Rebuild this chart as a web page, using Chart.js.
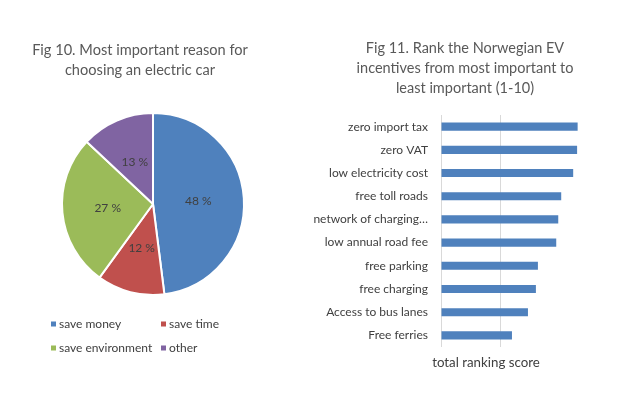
<!DOCTYPE html>
<html><head><meta charset="utf-8">
<script src="https://cdn.jsdelivr.net/npm/chart.js@4"></script>
<style>
html,body{margin:0;padding:0;background:#fff;}
#wrap{position:relative;width:620px;height:413px;background:#fff;}
canvas{position:absolute;top:0;}
#c1{left:0;}
#c2{left:310px;}
</style></head><body>
<div id="wrap">
<canvas id="c1" width="310" height="413"></canvas>
<canvas id="c2" width="310" height="413"></canvas>
</div>
<script>
const pieTitle = ['Fig 10. Most important reason for', 'choosing an electric car'];
const reasons = ['save money', 'save time', 'save environment', 'other'];
const reasonShares = [48, 12, 27, 13];
const reasonColors = ['#4F81BD', '#C0504D', '#9BBB59', '#8064A2'];

const barTitle = ['Fig 11. Rank the Norwegian EV', 'incentives from most important to', 'least important (1-10)'];
const incentives = ['zero import tax', 'zero VAT', 'low electricity cost', 'free toll roads', 'network of charging\u2026', 'low annual road fee', 'free parking', 'free charging', 'Access to bus lanes', 'Free ferries'];
const rankingScores = [1290, 1285, 1248, 1135, 1107, 1088, 915, 896, 821, 670];
const xAxisTitle = 'total ranking score';

const FONT = 'Lato, "Open Sans", sans-serif';
const TEXT = '#404040';
const TITLE = '#595959';

const pieExtras = {
  id: 'pieExtras',
  afterDatasetsDraw(chart) {
    const ctx = chart.ctx;
    const meta = chart.getDatasetMeta(0);
    ctx.save();
    ctx.font = '12px ' + FONT;
    ctx.fillStyle = TEXT;
    ctx.textAlign = 'center';
    ctx.textBaseline = 'middle';
    meta.data.forEach((arc, i) => {
      const p = arc.tooltipPosition();
      ctx.fillText(reasonShares[i] + ' %', p.x, p.y);
    });
    ctx.restore();
  },
  afterDraw(chart) {
    const ctx = chart.ctx;
    ctx.save();
    ctx.font = '14.6px ' + FONT;
    ctx.fillStyle = TITLE;
    ctx.textAlign = 'center';
    ctx.textBaseline = 'middle';
    pieTitle.forEach((t, i) => ctx.fillText(t, 140, 50 + i * 20));
    // legend, 2x2 grid
    ctx.font = '12px ' + FONT;
    ctx.textAlign = 'left';
    const cols = [51, 161], rows = [324, 348];
    reasons.forEach((r, i) => {
      const x = cols[i % 2], y = rows[Math.floor(i / 2)];
      ctx.fillStyle = reasonColors[i];
      ctx.fillRect(x, y - 2.5, 5, 5);
      ctx.fillStyle = TEXT;
      ctx.fillText(r, x + 8, y);
    });
    ctx.restore();
  }
};

// axis title drawn under the plot, offset as in the original
const barAxisTitle = {
  id: 'barAxisTitle',
  afterDraw(chart) {
    const ctx = chart.ctx;
    ctx.save();
    ctx.font = '13.3px ' + FONT;
    ctx.fillStyle = TEXT;
    ctx.textAlign = 'center';
    ctx.textBaseline = 'middle';
    ctx.fillText(xAxisTitle, 176, 363);
    ctx.restore();
  }
};

new Chart(document.getElementById('c1'), {
  type: 'pie',
  data: {
    labels: reasons,
    datasets: [{
      data: reasonShares,
      backgroundColor: reasonColors,
      borderColor: '#ffffff',
      borderWidth: 2
    }]
  },
  options: {
    responsive: false,
    animation: false,
    radius: 91,
    rotation: 0,
    layout: { padding: { left: 62, right: 66, top: 113, bottom: 118 } },
    plugins: { legend: { display: false }, title: { display: false }, tooltip: { enabled: false } }
  },
  plugins: [pieExtras]
});

new Chart(document.getElementById('c2'), {
  type: 'bar',
  data: {
    labels: incentives,
    datasets: [{
      data: rankingScores,
      backgroundColor: '#4F81BD',
      barPercentage: 0.35,
      categoryPercentage: 1
    }]
  },
  options: {
    indexAxis: 'y',
    responsive: false,
    animation: false,
    layout: { padding: { top: 38, bottom: 66, left: 0, right: 0 } },
    plugins: {
      legend: { display: false },
      tooltip: { enabled: false },
      title: {
        display: true,
        text: barTitle,
        color: TITLE,
        font: { family: FONT, size: 14.5, weight: 'normal', lineHeight: 1.38 },
        padding: { top: 0, bottom: 17 }
      }
    },
    scales: {
      x: {
        min: 0, max: 1690,
        ticks: { display: false, stepSize: 500 },
        grid: {
          drawTicks: false,
          color: (c) => (c.tick && c.tick.value > 1000) ? 'rgba(0,0,0,0)' : '#D9D9D9'
        },
        border: { display: false },
        title: { display: false }
      },
      y: {
        grid: { display: false, drawTicks: false },
        border: { display: false },
        ticks: { color: TEXT, font: { family: FONT, size: 12 }, padding: 13 },
        afterFit(s) { s.width = 131; }
      }
    }
  },
  plugins: [barAxisTitle]
});
</script>
</body></html>
